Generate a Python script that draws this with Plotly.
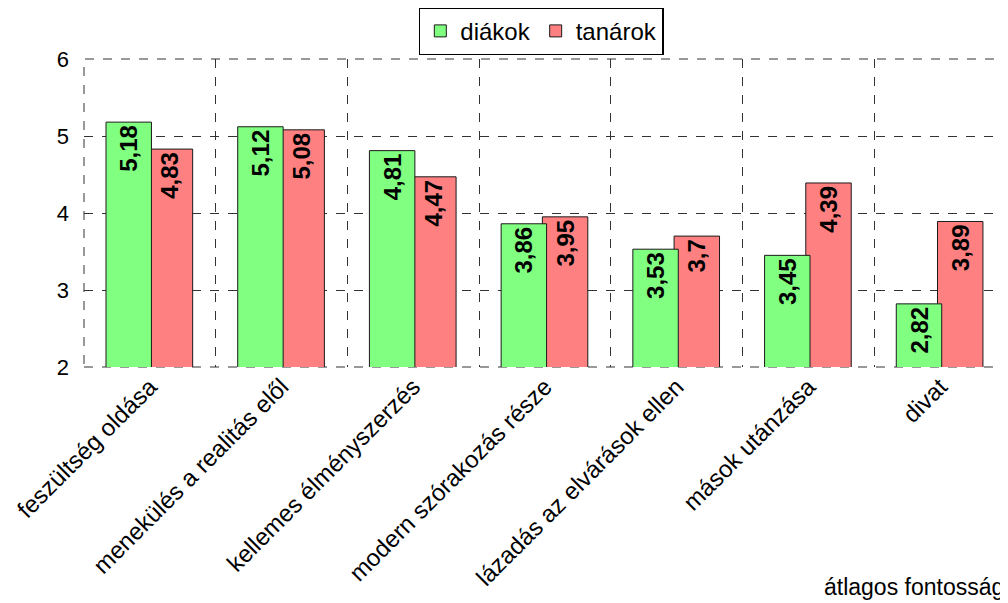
import plotly.graph_objects as go

# Data
categories = ['feszültség oldása', 'menekülés a realitás elől', 'kellemes élményszerzés',
              'modern szórakozás része', 'lázadás az elvárások ellen', 'mások utánzása', 'divat']
diakok = [5.18, 5.12, 4.81, 3.86, 3.53, 3.45, 2.82]
tanarok = [4.83, 5.08, 4.47, 3.95, 3.70, 4.39, 3.89]

COLORS = {'diakok': '#80FF80', 'tanarok': '#FF8080', 'edge': '#1a1a1a', 'grid': '#333333'}
FONT = 'Liberation Sans, Arial, sans-serif'


def fmt(v):
    return f"{v:g}".replace('.', ',')


fig = go.Figure()

# red first so the green bar sits on top where they overlap
fig.add_trace(go.Bar(
    x=categories, y=tanarok, name='tanárok',
    marker=dict(color=COLORS['tanarok'], line=dict(color=COLORS['edge'], width=1)),
    width=0.345, offset=-0.02,
    text=[fmt(v) for v in tanarok], textposition='inside', textangle=-90,
    insidetextanchor='end', constraintext='none',
    textfont=dict(family=FONT, size=24, color='black', weight='bold'),
))
fig.add_trace(go.Bar(
    x=categories, y=diakok, name='diákok',
    marker=dict(color=COLORS['diakok'], line=dict(color=COLORS['edge'], width=1)),
    width=0.345, offset=-0.333,
    text=[fmt(v) for v in diakok], textposition='inside', textangle=-90,
    insidetextanchor='end', constraintext='none',
    textfont=dict(family=FONT, size=24, color='black', weight='bold'),
))

# the page body adds an 8px offset, so the figure is sized 8px smaller
fig.update_layout(
    width=1000, height=595,
    barmode='overlay',
    paper_bgcolor='white', plot_bgcolor='white',
    font=dict(family=FONT, size=24, color='black'),
    margin=dict(l=76, r=2, t=51, b=236, autoexpand=False),
    showlegend=True,
    legend=dict(orientation='h', traceorder='reversed', x=0.496, xanchor='center',
                y=1.09, yanchor='middle', bordercolor='black', borderwidth=1.5,
                font=dict(size=24), itemwidth=30, tracegroupgap=0),
    annotations=[dict(text='átlagos fontosság', xref='paper', yref='paper',
                      x=1.0, y=-0.715, xanchor='right', yanchor='middle',
                      showarrow=False, font=dict(size=23))],
    shapes=[dict(type='rect', xref='paper', yref='paper', x0=0, x1=1, y0=0, y1=1,
                 line=dict(color=COLORS['grid'], width=1, dash='dash'), layer='below')],
)

fig.update_xaxes(
    type='category', tickson='boundaries', tickangle=-45, automargin=False,
    showgrid=True, gridcolor=COLORS['grid'], griddash='dash', gridwidth=1,
    showline=False, ticks='', tickfont=dict(size=24),
)
fig.update_yaxes(
    range=[2, 6], dtick=1, showgrid=True, gridcolor=COLORS['grid'], griddash='dash',
    gridwidth=1, zeroline=False, showline=False, ticks='', automargin=False,
    ticklabelstandoff=14, tickfont=dict(size=22),
)

fig.write_html("out.html")
